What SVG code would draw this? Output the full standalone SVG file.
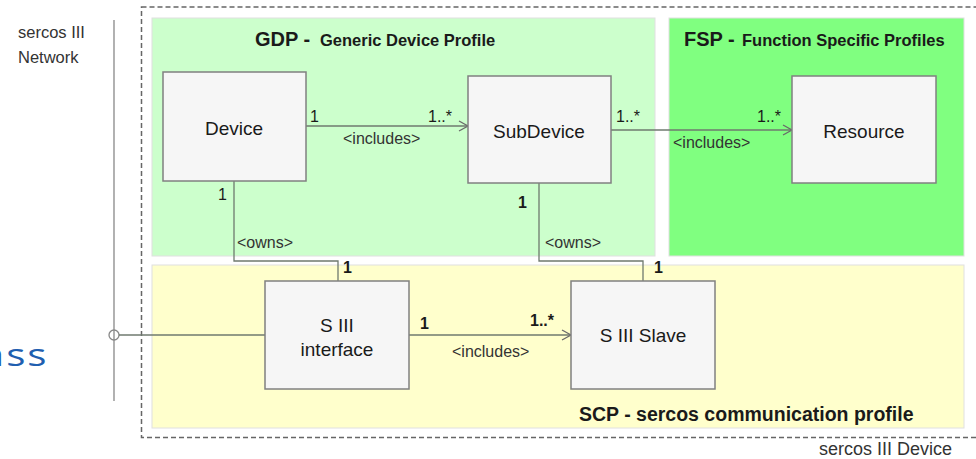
<svg xmlns="http://www.w3.org/2000/svg" width="976" height="459" viewBox="0 0 976 459">
<defs>
<marker id="arr" markerWidth="12" markerHeight="12" refX="10" refY="6" orient="auto" markerUnits="userSpaceOnUse">
<path d="M1,1 L10,6 L1,11" fill="none" stroke="#6a6a6a" stroke-width="1.3"/>
</marker>
</defs>
<style>
text{font-family:"Liberation Sans",Arial,sans-serif;fill:#1a1a1a}
.node rect{fill:#f6f6f6;stroke:#808080;stroke-width:1.5}
.lbl{font-size:19px;text-anchor:middle}
.small{font-size:16px;fill:#333}
.mult{font-size:16px}
.conn path{fill:none;stroke:#6f7a6f;stroke-width:1.3}
.title{font-weight:bold;font-size:20px}
.sub{font-weight:bold;font-size:16.5px}
</style>
<rect width="976" height="459" fill="#ffffff"/>

<!-- background regions -->
<g id="regions">
<rect x="152" y="18" width="503" height="238" fill="#ccffcc" stroke="#e0e0e0"/>
<rect x="669" y="18" width="295" height="238" fill="#80ff80" stroke="#e0e0e0"/>
<rect x="152" y="265" width="812" height="163" fill="#ffffcc" stroke="#e0e0e0"/>
<rect x="141.5" y="7" width="850" height="430.5" fill="none" stroke="#666" stroke-width="1.5" stroke-dasharray="5,3"/>
</g>

<g id="titles">
<text x="255" y="46" class="title">GDP -</text>
<text x="320" y="46" class="sub">Generic Device Profile</text>
<text x="684" y="46" class="title">FSP -</text>
<text x="742" y="46" class="sub">Function Specific Profiles</text>
<text x="579" y="421" class="title" style="font-size:19.5px">SCP - sercos communication profile</text>
<text x="819" y="455" style="font-size:18px;fill:#333">sercos III Device</text>
<text x="18" y="38" style="font-size:16.5px;fill:#333">sercos III</text>
<text x="18" y="63" style="font-size:16.5px;fill:#333">Network</text>
<text transform="translate(0,366) scale(1.3,1)" x="-14" y="0" style="font-family:'Open Sans',sans-serif;font-size:31px;fill:#1f5fb0;letter-spacing:1.5px">ass</text>
</g>

<!-- network line -->
<g id="network">
<line x1="114" y1="20" x2="114" y2="401" stroke="#888" stroke-width="1.3"/>
<circle cx="114" cy="335" r="5" fill="none" stroke="#888" stroke-width="1.3"/>
</g>

<g class="conn" id="connectors">
<path d="M119,335 H265"/>
<path d="M306,126 H468" marker-end="url(#arr)"/>
<path d="M611,130 H792" marker-end="url(#arr)"/>
<path d="M234,181 V261 H338 V281"/>
<path d="M539,183 V261 H643 V281"/>
<path d="M409,335 H571" marker-end="url(#arr)"/>
</g>

<g id="conn-labels">
<text x="310" y="122" class="mult">1</text>
<text x="428" y="122" class="mult">1..*</text>
<text x="343" y="144" class="small">&lt;includes&gt;</text>
<text x="616" y="122" class="mult">1..*</text>
<text x="757" y="122" class="mult">1..*</text>
<text x="673" y="148" class="small">&lt;includes&gt;</text>
<text x="218" y="200" class="mult">1</text>
<text x="237" y="248" class="small">&lt;owns&gt;</text>
<text x="343" y="273" class="mult" style="font-weight:bold">1</text>
<text x="518" y="208" class="mult" style="font-weight:bold">1</text>
<text x="545" y="248" class="small">&lt;owns&gt;</text>
<text x="654" y="273" class="mult" style="font-weight:bold">1</text>
<text x="420" y="329" class="mult" style="font-weight:bold">1</text>
<text x="530" y="326" class="mult" style="font-weight:bold">1..*</text>
<text x="452" y="357" class="small">&lt;includes&gt;</text>
</g>

<g class="node" id="device">
<rect x="163" y="72" width="143" height="109"/>
<text x="234" y="135" class="lbl">Device</text>
</g>
<g class="node" id="subdevice">
<rect x="468" y="76" width="143" height="107"/>
<text x="539" y="138" class="lbl">SubDevice</text>
</g>
<g class="node" id="resource">
<rect x="792" y="76" width="144" height="107"/>
<text x="864" y="138" class="lbl">Resource</text>
</g>
<g class="node" id="s3interface">
<rect x="265" y="281" width="144" height="108"/>
<text x="337" y="332" class="lbl">S III</text>
<text x="337" y="356" class="lbl">interface</text>
</g>
<g class="node" id="s3slave">
<rect x="571" y="281" width="144" height="108"/>
<text x="643" y="342" class="lbl">S III Slave</text>
</g>
</svg>
